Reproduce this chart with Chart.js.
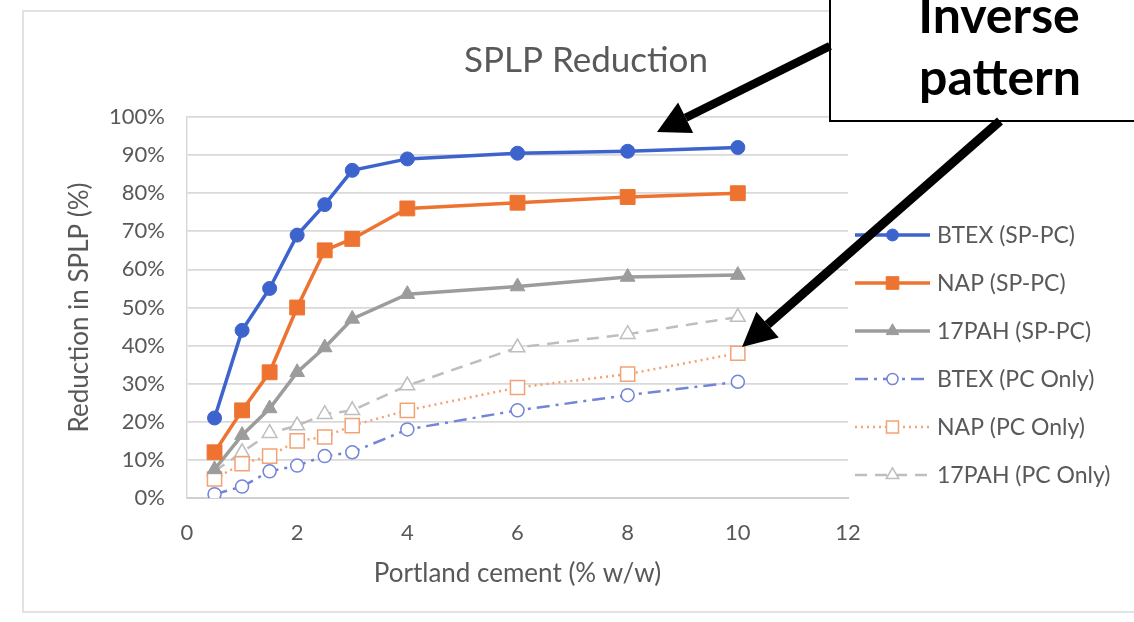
<!DOCTYPE html>
<html>
<head>
<meta charset="utf-8">
<script src="https://cdn.jsdelivr.net/npm/chart.js@4.4.1/dist/chart.umd.min.js"></script>
<style>
    html, body { margin: 0; padding: 0; background: #fff; }
    #wrap { width: 1134px; height: 622px; }
</style>
</head>
<body>
<div id="wrap"><canvas id="splpChart" width="1134" height="622"></canvas></div>
<script>
// Portland cement dose (% w/w)
const cement = [0.5, 1, 1.5, 2, 2.5, 3, 4, 6, 8, 10];

// reduction in SPLP (%)
const btexSP = [21, 44, 55, 69, 77, 86, 89, 90.5, 91, 92];
const napSP = [12, 23, 33, 50, 65, 68, 76, 77.5, 79, 80];
const pahSP = [7.5, 16.5, 23.5, 33, 39.5, 47, 53.5, 55.5, 58, 58.5];
const btexPC = [1, 3, 7, 8.5, 11, 12, 18, 23, 27, 30.5];
const napPC = [5, 9, 11, 15, 16, 19, 23, 29, 32.5, 38];
const pahPC = [7, 12, 17, 19, 22, 23, 29.5, 39.5, 43, 47.5];

const seriesNames = ['BTEX (SP-PC)', 'NAP (SP-PC)', '17PAH (SP-PC)', 'BTEX (PC Only)', 'NAP (PC Only)', '17PAH (PC Only)'];
const xTicks = [0, 2, 4, 6, 8, 10, 12];
const chartTitle = 'SPLP Reduction';

const textColor = '#595959';
const fontFamily = 'Lato, "Open Sans", sans-serif';

function toPoints(values) {
    return values.map((v, i) => ({ x: cement[i], y: v }));
}

function makeDataset(label, values, color, style) {
    return Object.assign({
        label: label,
        data: toPoints(values),
        borderColor: color,
        backgroundColor: color,
        pointBorderColor: color,
        pointBackgroundColor: color,
        borderWidth: 3.5,
        pointBorderWidth: 1,
        tension: 0,
        fill: false
    }, style);
}

const datasets = [
    makeDataset(seriesNames[0], btexSP, '#3D63CD', { pointStyle: 'circle', pointRadius: 7 }),
    makeDataset(seriesNames[1], napSP, '#EE7330', { pointStyle: 'rect', pointRadius: 10.5 }),
    makeDataset(seriesNames[2], pahSP, '#9C9C9C', { pointStyle: 'triangle', pointRadius: 8.5 }),
    makeDataset(seriesNames[3], btexPC, '#7285D6', {
        pointStyle: 'circle', pointRadius: 6.5, borderWidth: 2.5, pointBorderWidth: 1.5,
        pointBackgroundColor: '#fff', borderDash: [13, 6, 3, 6]
    }),
    makeDataset(seriesNames[4], napPC, '#F3A274', {
        pointStyle: 'rect', pointRadius: 10, borderWidth: 2.5, pointBorderWidth: 1.5,
        pointBackgroundColor: '#fff', borderDash: [2, 4]
    }),
    makeDataset(seriesNames[5], pahPC, '#BEBEBE', {
        pointStyle: 'triangle', pointRadius: 8.5, borderWidth: 2.5, pointBorderWidth: 1.5,
        pointBackgroundColor: '#fff', borderDash: [12, 8]
    })
];

// white page, light chart frame and the title (Excel centres it on the whole chart)
const framePlugin = {
    id: 'frame',
    beforeDraw(chart) {
        const ctx = chart.ctx;
        ctx.save();
        ctx.fillStyle = '#fff';
        ctx.fillRect(0, 0, chart.width, chart.height);
        ctx.strokeStyle = '#d9d9d9';
        ctx.lineWidth = 1.5;
        ctx.strokeRect(23, 11, chart.width + 20, 601);
        ctx.fillStyle = textColor;
        ctx.font = '35px ' + fontFamily;
        ctx.textAlign = 'center';
        ctx.textBaseline = 'alphabetic';
        ctx.fillText(chartTitle, 586, 72);
        ctx.restore();
    }
};

// Excel style legend: line sample with marker, to the right of the plot
const sideLegend = {
    id: 'sideLegend',
    afterDraw(chart) {
        const ctx = chart.ctx;
        const x0 = 855, x1 = 930, textX = 937;
        ctx.save();
        chart.data.datasets.forEach((ds, i) => {
            const y = 235 + i * 48;
            ctx.strokeStyle = ds.borderColor;
            ctx.lineWidth = ds.borderWidth;
            ctx.setLineDash(ds.borderDash || []);
            ctx.beginPath();
            ctx.moveTo(x0, y);
            ctx.lineTo(x1, y);
            ctx.stroke();
            ctx.setLineDash([]);
            ctx.fillStyle = ds.pointBackgroundColor;
            ctx.strokeStyle = ds.pointBorderColor;
            ctx.lineWidth = ds.pointBorderWidth;
            Chart.helpers.drawPoint(ctx, {
                pointStyle: ds.pointStyle,
                radius: ds.pointRadius * 0.85,
                rotation: 0,
                borderWidth: ds.pointBorderWidth
            }, (x0 + x1) / 2, y);
            ctx.fillStyle = textColor;
            ctx.font = '23px ' + fontFamily;
            ctx.textAlign = 'left';
            ctx.textBaseline = 'middle';
            ctx.fillText(ds.label, textX, y + 1);
        });
        ctx.restore();
    }
};

function drawArrow(ctx, x0, y0, x1, y1, width, headLen, headHalf) {
    const ang = Math.atan2(y1 - y0, x1 - x0);
    const bx = x1 - headLen * Math.cos(ang);
    const by = y1 - headLen * Math.sin(ang);
    ctx.lineWidth = width;
    ctx.beginPath();
    ctx.moveTo(x0, y0);
    ctx.lineTo(bx, by);
    ctx.stroke();
    ctx.beginPath();
    ctx.moveTo(x1, y1);
    ctx.lineTo(bx + headHalf * Math.sin(ang), by - headHalf * Math.cos(ang));
    ctx.lineTo(bx - headHalf * Math.sin(ang), by + headHalf * Math.cos(ang));
    ctx.closePath();
    ctx.fill();
}

// the "Inverse pattern" callout and its two arrows
const callout = {
    id: 'callout',
    afterDraw(chart) {
        const ctx = chart.ctx;
        ctx.save();
        ctx.fillStyle = '#fff';
        ctx.fillRect(830, -5, 320, 126);
        ctx.strokeStyle = '#000';
        ctx.lineWidth = 2;
        ctx.strokeRect(830, -5, 320, 126);
        ctx.fillStyle = '#000';
        ctx.font = 'bold 50px ' + fontFamily;
        ctx.textAlign = 'center';
        ctx.textBaseline = 'alphabetic';
        ctx.fillText('Inverse', 999, 33);
        ctx.fillText('pattern', 1000, 95);
        ctx.strokeStyle = '#000';
        ctx.lineCap = 'butt';
        drawArrow(ctx, 830, 46, 657, 132, 8.5, 32, 17);
        drawArrow(ctx, 1000, 121, 742, 347, 9, 34, 17);
        ctx.restore();
    }
};

function createChart(ctx) {
    new Chart(ctx, {
        type: 'line',
        data: { datasets: datasets },
        options: {
            responsive: false,
            animation: false,
            layout: {
                padding: { left: 50, right: 286, top: 117, bottom: 33 }
            },
            plugins: {
                legend: { display: false },
                tooltip: { enabled: false },
                title: { display: false }
            },
            scales: {
                x: {
                    type: 'linear',
                    min: 0,
                    max: 12,
                    afterBuildTicks: (scale) => { scale.ticks = xTicks.map(v => ({ value: v })); },
                    afterFit: (scale) => { scale.height = 91; },
                    grid: { display: false, drawTicks: false },
                    border: { display: true, color: '#d0d0d0', width: 2 },
                    ticks: {
                        color: textColor,
                        padding: 22,
                        font: { family: fontFamily, size: 22 }
                    },
                    title: {
                        display: true,
                        text: 'Portland cement (% w/w)',
                        color: textColor,
                        font: { family: fontFamily, size: 26 },
                        padding: { top: 0, bottom: 0 }
                    }
                },
                y: {
                    min: 0,
                    max: 100,
                    afterFit: (scale) => { scale.width = 137; },
                    grid: { color: '#d9d9d9', lineWidth: 1.8, drawTicks: false },
                    border: { display: true, color: '#d9d9d9', width: 1.5 },
                    ticks: {
                        stepSize: 10,
                        color: textColor,
                        padding: 22,
                        font: { family: fontFamily, size: 22 },
                        callback: (v) => v + '%'
                    },
                    title: {
                        display: true,
                        text: 'Reduction in SPLP (%)',
                        color: textColor,
                        font: { family: fontFamily, size: 26 },
                        padding: { top: 14, bottom: 0 }
                    }
                }
            }
        },
        plugins: [framePlugin, sideLegend, callout]
    });
}

createChart(document.getElementById('splpChart').getContext('2d'));
</script>
</body>
</html>
